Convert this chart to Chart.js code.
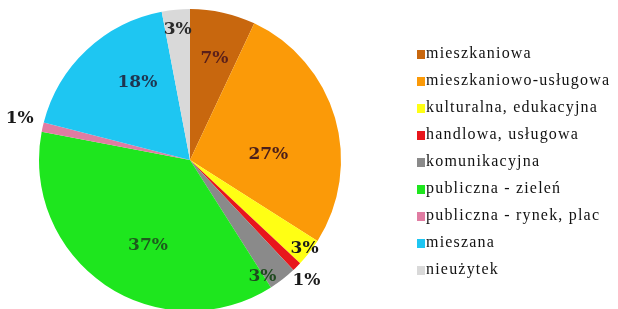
<!DOCTYPE html>
<html>
<head>
<meta charset="utf-8">
<script src="https://cdn.jsdelivr.net/npm/chart.js@4.4.1/dist/chart.umd.min.js"></script>
<style>
    html, body { margin: 0; padding: 0; background: #fff; overflow: hidden; }
    #wrap { position: relative; width: 618px; height: 309px; overflow: hidden; }
    #box { position: absolute; left: 0; top: 0; width: 618px; height: 311px; }
    #legend { position: absolute; left: 417px; top: 43px; margin: 0; padding: 0; list-style: none;
        font-family: "Liberation Serif", "DejaVu Serif", serif; font-size: 16px; letter-spacing: 1.2px; color: #111; }
    #legend li { height: 27px; line-height: 19px; white-space: nowrap; }
    #legend span { display: inline-block; width: 8px; height: 9px; margin-right: 1px; vertical-align: -1px; }
</style>
</head>
<body>
<div id="wrap">
    <div id="box"><canvas id="myChart"></canvas></div>
    <ul id="legend"></ul>
</div>
<script>
// Kategorie i udziały (%)
const categories = ['mieszkaniowa', 'mieszkaniowo-usługowa', 'kulturalna, edukacyjna', 'handlowa, usługowa',
    'komunikacyjna', 'publiczna - zieleń', 'publiczna - rynek, plac', 'mieszana', 'nieużytek'];
const shares = [7, 27, 3, 1, 3, 37, 1, 18, 3];

const sliceColors = ['#c8670e', '#fb9a08', '#ffff14', '#e8161c', '#8a8a8a', '#1ee61e', '#e07ca2', '#1ec6f2', '#d9d9d9'];
const labelColors = ['#5a1f1a', '#4a1e1a', '#1a1a1a', '#1a1a1a', '#1f4a1f', '#1d5a1d', '#1a1a1a', '#1f3550', '#2a2a2a'];

// pozycja etykiety: [ułamek promienia, przesunięcie kąta w stopniach]
const labelPos = [[0.69, 1], [0.52, 12], [0.96, 0], [1.11, 1], [0.91, 6], [0.63, -8], [1.16, 1], [0.62, 9], [0.87, 0]];

const pctLabels = {
    id: 'pctLabels',
    afterDatasetsDraw(chart) {
        const ctx = chart.ctx;
        const arcs = chart.getDatasetMeta(0).data;
        ctx.save();
        ctx.font = 'bold 17px "DejaVu Serif", serif';
        ctx.textAlign = 'center';
        ctx.textBaseline = 'middle';
        arcs.forEach((arc, i) => {
            const p = arc.getProps(['x', 'y', 'startAngle', 'endAngle', 'outerRadius'], true);
            const a = (p.startAngle + p.endAngle) / 2 + labelPos[i][1] * Math.PI / 180;
            const r = p.outerRadius * labelPos[i][0];
            ctx.fillStyle = labelColors[i];
            ctx.fillText(shares[i] + '%', p.x + Math.cos(a) * r, p.y + Math.sin(a) * r);
        });
        ctx.restore();
    }
};

const config = {
    type: 'pie',
    data: {
        labels: categories,
        datasets: [{
            data: shares,
            backgroundColor: sliceColors,
            borderWidth: 0,
            hoverOffset: 0
        }]
    },
    options: {
        responsive: true,
        maintainAspectRatio: false,
        animation: false,
        layout: {
            padding: { top: 9, left: 39, right: 277, bottom: 0 }
        },
        plugins: {
            legend: { display: false },
            tooltip: { enabled: false }
        }
    },
    plugins: [pctLabels]
};

let myChart = new Chart(document.getElementById('myChart'), config);

// legenda
const legend = document.getElementById('legend');
categories.forEach((name, i) => {
    const li = document.createElement('li');
    const sw = document.createElement('span');
    sw.style.background = sliceColors[i];
    li.appendChild(sw);
    li.appendChild(document.createTextNode(name));
    legend.appendChild(li);
});
</script>
</body>
</html>
